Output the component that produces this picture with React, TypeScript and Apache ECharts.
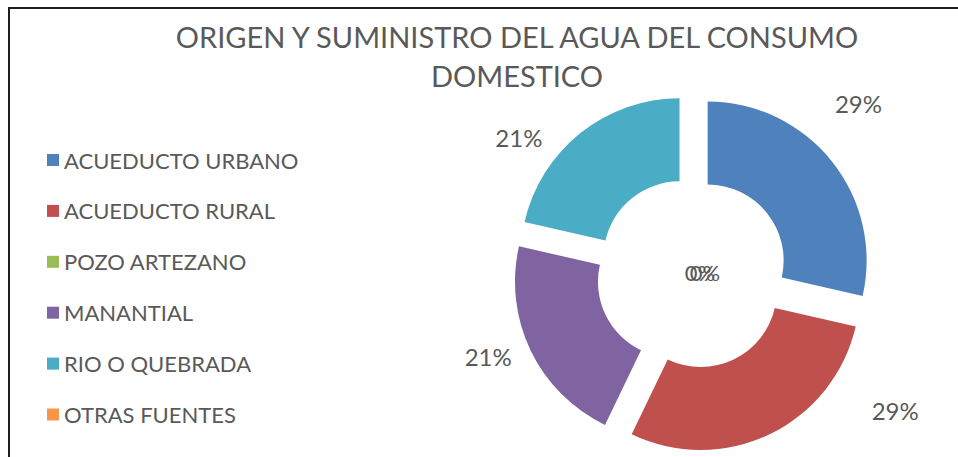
import React, { useEffect, useRef } from "react";
import * as echarts from "echarts";

const categories = [
  "ACUEDUCTO URBANO",
  "ACUEDUCTO RURAL",
  "POZO ARTEZANO",
  "MANANTIAL",
  "RIO O QUEBRADA",
  "OTRAS FUENTES",
];
const values = [4, 4, 0, 3, 3, 0];
const titleLines = ["ORIGEN Y SUMINISTRO DEL AGUA DEL CONSUMO", "DOMESTICO"];

const colors = ["#4F81BD", "#C0504D", "#9BBB59", "#8064A2", "#4BACC6", "#F79646"];
// label nudges (style only)
const labelShift = [
  [-2, -58],
  [97, -24],
  [8, -1],
  [-14, 6],
  [-33, 4],
  [13, -1],
];

const FONT = "Lato, 'Open Sans', sans-serif";
const TEXT = "#595959";

export default function App() {
  const ref = useRef<HTMLDivElement>(null);
  useEffect(() => {
    if (!ref.current) return;
    const chart = echarts.init(ref.current, undefined, { renderer: "svg" });
    chart.setOption({
      animation: false,
      color: colors,
      graphic: [
        {
          type: "text",
          x: 517,
          y: 36,
          style: {
            text: titleLines[0],
            fontFamily: FONT,
            fontSize: 29,
            fill: TEXT,
            align: "center",
            verticalAlign: "middle",
          },
        },
        {
          type: "text",
          x: 517,
          y: 75,
          style: {
            text: titleLines[1],
            fontFamily: FONT,
            fontSize: 29,
            fill: TEXT,
            align: "center",
            verticalAlign: "middle",
          },
        },
      ],
      legend: {
        orient: "vertical",
        left: 42,
        top: 144,
        itemWidth: 12,
        itemHeight: 12,
        itemGap: 28.9,
        icon: "rect",
        selectedMode: false,
        data: categories,
        textStyle: {
          fontFamily: FONT,
          fontSize: 22,
          color: TEXT,
        },
      },
      series: [
        {
          type: "pie",
          center: [692, 273],
          radius: [76, 159],
          startAngle: 90,
          clockwise: true,
          selectedMode: "multiple",
          selectedOffset: 20,
          avoidLabelOverlap: false,
          emphasis: { disabled: true },
          itemStyle: { borderWidth: 0 },
          label: {
            show: true,
            position: "outside",
            fontFamily: FONT,
            fontSize: 24,
            color: TEXT,
            formatter: (p: any) => Math.round(p.percent) + "%",
          },
          labelLine: { show: false, length: 0, length2: 0 },
          labelLayout: (p: any) => {
            const s = labelShift[p.dataIndex];
            return { dx: s[0], dy: s[1] };
          },
          data: categories.map((name, i) => {
            const zero = values[i] === 0;
            return {
              name,
              value: values[i],
              selected: !zero,
              itemStyle: { color: colors[i] },
              label: zero ? { position: "center", fontSize: 22 } : {},
            };
          }),
        },
      ],
    });
    return () => chart.dispose();
  }, []);
  return (
    <div
      style={{
        position: "fixed",
        left: 0,
        top: 0,
        width: 958,
        height: 457,
        overflow: "hidden",
        background: "#fff",
      }}
    >
      <div
        style={{
          position: "absolute",
          left: 8,
          top: 7,
          width: 1000,
          height: 500,
          borderLeft: "2px solid #1e1e1e",
          borderTop: "2px solid #1e1e1e",
        }}
      />
      <div
        ref={ref}
        style={{ position: "absolute", left: 0, top: 0, width: 958, height: 457 }}
      />
    </div>
  );
}
